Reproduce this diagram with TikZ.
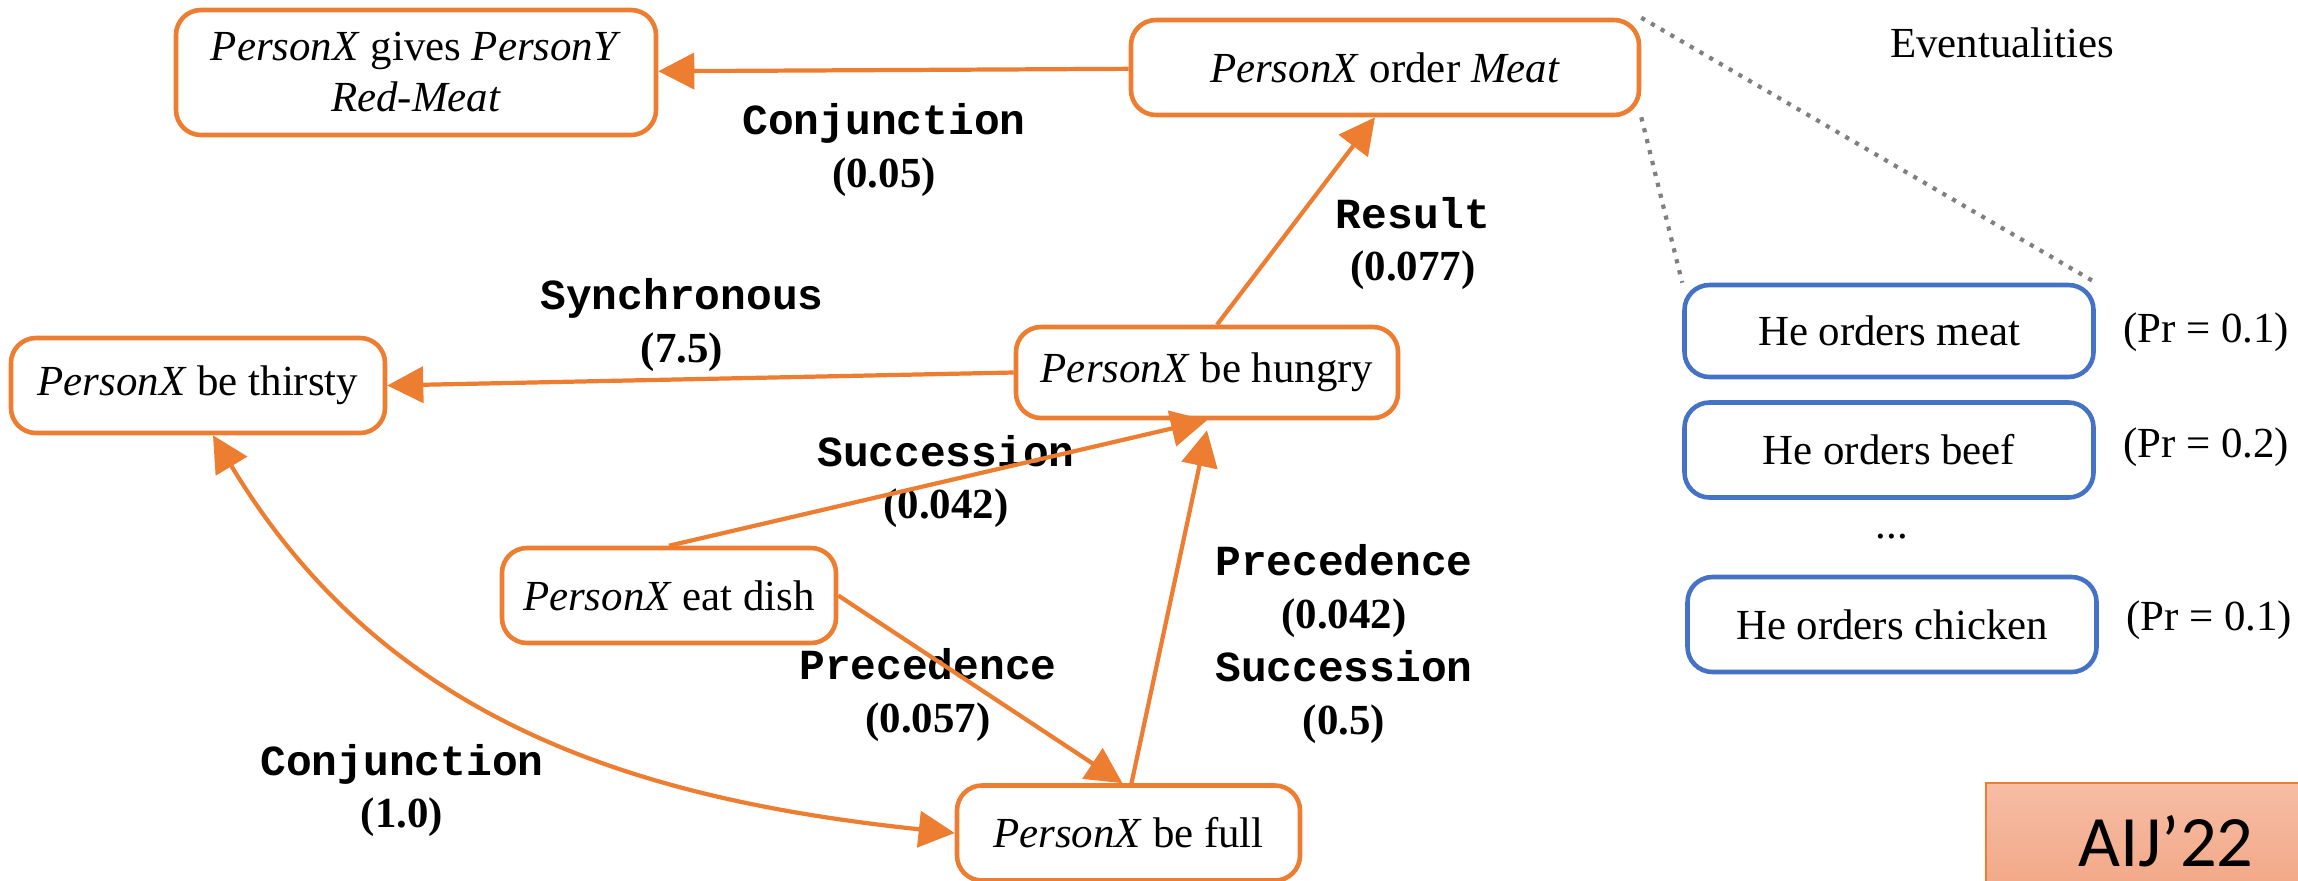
\documentclass[tikz,border=0pt]{standalone}
\usepackage{fontspec}
\setmainfont{Liberation Serif}
\setmonofont{Liberation Mono}
\newfontfamily\aijfont{Carlito}
\usepackage{tikz}
\usetikzlibrary{arrows.meta}
\definecolor{eorange}{HTML}{ED7D31}
\definecolor{iblue}{HTML}{4472C4}
\definecolor{aijtop}{HTML}{F6BDA5}
\definecolor{aijbot}{HTML}{F2A684}

\begin{document}
\begin{tikzpicture}[>={Triangle[length=3.6mm,width=3.6mm]},
  ev/.style={rectangle, rounded corners=2.5mm, draw=eorange, line width=1.3pt, fill=white, inner sep=0pt, minimum height=0.95cm, align=center, font=\fontsize{12.2}{14.5}\selectfont},
  inst/.style={ev, draw=iblue, minimum width=4.09cm},
  txt/.style={inner sep=0pt, font=\fontsize{12.2}{14.5}\selectfont},
  lab/.style={inner sep=0pt, align=center, font=\fontsize{12.2}{15}\selectfont\bfseries},
  rel/.style={draw=eorange, line width=1.2pt},
  linkdot/.style={draw=gray, line width=1.2pt, dotted},
  aij/.style={rectangle, draw=eorange, line width=0.6pt, top color=aijtop, bottom color=aijbot, minimum width=3.6cm, minimum height=1.16cm, font=\aijfont\fontsize{20.6}{24}\selectfont}]
\useasboundingbox (0,0) rectangle (22.98,-8.80);
\node[ev, minimum width=4.80cm, minimum height=1.25cm] (1) at (4.16,-0.725) {\textit{PersonX} gives \textit{PersonY}\\\textit{Red-Meat}};
\node[ev, minimum width=5.08cm] (2) at (13.85,-0.675) {\textit{PersonX} order \textit{Meat}};
\node[ev, minimum width=3.74cm] (3) at (1.98,-3.855) {\textit{PersonX} be thirsty};
\node[ev, minimum width=3.82cm, minimum height=0.91cm] (4) at (12.07,-3.725) {\textit{PersonX} be hungry};
\node[ev, minimum width=3.34cm] (5) at (6.69,-5.955) {\textit{PersonX} eat dish};
\node[ev, minimum width=3.43cm] (6) at (11.285,-8.33) {\textit{PersonX} be full};
\node[inst, minimum height=0.92cm] (7) at (18.89,-3.31) {He orders meat};
\node[inst] (8) at (18.89,-4.50) {He orders beef};
\node[inst] (9) at (18.92,-6.245) {He orders chicken};
\node[txt] (dd) at (18.92,-5.37) {...};
\node[txt] (ev) at (20.02,-0.43) {Eventualities};
\node[txt] (p7) at (22.06,-3.32) {(Pr = 0.1)};
\node[txt] (p8) at (22.06,-4.47) {(Pr = 0.2)};
\node[txt] (p9) at (22.09,-6.20) {(Pr = 0.1)};
\node[lab] (l1) at (8.84,-1.50) {\texttt{Conjunction}\\(0.05)};
\node[lab] (l2) at (14.13,-2.435) {\texttt{Result}\\(0.077)};
\node[lab] (l3) at (6.82,-3.25) {\texttt{Synchronous}\\(7.5)};
\node[lab] (l4) at (9.46,-4.815) {\texttt{Succession}\\(0.042)};
\node[lab] (l5) at (13.44,-6.44) {\texttt{Precedence}\\(0.042)\\\texttt{Succession}\\(0.5)};
\node[lab] (l6) at (9.28,-6.95) {\texttt{Precedence}\\(0.057)};
\node[lab] (l7) at (4.02,-7.905) {\texttt{Conjunction}\\(1.0)};
\draw[rel, ->] (2) -- (1);
\draw[rel, ->] ([xshift=1mm]4.north) -- ([xshift=-1mm]2.south);
\draw[rel, ->] (4.west) -- (3.east);
\draw[rel, ->] (5.north) -- (4.south);
\draw[rel, ->] (5.east) -- ([xshift=-0.6mm]6.north);
\draw[rel, ->] ([xshift=0.3mm]6.north) -- ([yshift=-1mm]4.south);
\draw[rel, <->] ([xshift=1.5mm]3.south) to[out=-59, in=174] (6.west);
%% instances of node 2
\draw[linkdot] (2.north east) -- (7.north east);
\draw[linkdot] (2.south east) -- (7.north west);
\node[aij] (10) at (21.66,-8.41) {AIJ’22};
\end{tikzpicture}
\end{document}
